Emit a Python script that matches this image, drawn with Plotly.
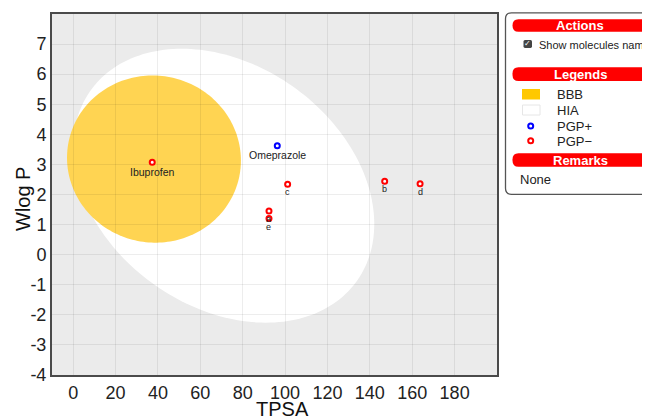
import numpy as np
import plotly.graph_objects as go

# ---------------- data ----------------
names = ["Ibuprofen", "Omeprazole", "c", "b", "d", "a", "e"]
tpsa = [37.30, 96.31, 101.2, 147.0, 163.7, 92.4, 92.4]
wlogp = [3.07, 3.62, 2.34, 2.44, 2.36, 1.45, 1.20]
pgp = ["-", "+", "-", "-", "-", "-", "-"]

# BOILED-Egg ellipses: (center TPSA, center WLOGP, width, height, angle deg)
hia_ellipse = [71.051, 2.292, 142.081, 8.740, -1.031325]
bbb_ellipse = [38.117, 3.177, 82.061, 5.557, -0.066235]

x_range = [-10, 200]
y_range = [-4, 8]
x_ticks = [0, 20, 40, 60, 80, 100, 120, 140, 160, 180]
y_ticks = [-4, -3, -2, -1, 0, 1, 2, 3, 4, 5, 6, 7]

x_title = "TPSA"
y_title = "Wlog P"
legend_labels = ["BBB", "HIA", "PGP+", "PGP\u2212"]

# ---------------- layout helpers ----------------
OFF = 8  # page body margin
W, H = 642, 410
L, T = 52 - OFF, 14 - OFF
PW, PH = 445, 361
R = W - L - PW
B = H - T - PH


def pxx(x):  # page pixel -> paper x
    return (x - OFF - L) / PW


def pxy(y):  # page pixel -> paper y
    return (T + PH - (y - OFF)) / PH


def ellipse_path(cx, cy, w, h, ang, n=200):
    t = np.linspace(0, 2 * np.pi, n, endpoint=False)
    a, b = w / 2, h / 2
    th = np.deg2rad(ang)
    xs = cx + a * np.cos(t) * np.cos(th) - b * np.sin(t) * np.sin(th)
    ys = cy + a * np.cos(t) * np.sin(th) + b * np.sin(t) * np.cos(th)
    p = "M %.4f,%.4f " % (xs[0], ys[0])
    p += " ".join("L %.4f,%.4f" % (x, y) for x, y in zip(xs[1:], ys[1:]))
    return p + " Z"


def rrect(x0, y0, x1, y1, r):
    pts = [
        ("M", [(x0 + r, y0)]), ("L", [(x1 - r, y0)]), ("Q", [(x1, y0), (x1, y0 + r)]),
        ("L", [(x1, y1 - r)]), ("Q", [(x1, y1), (x1 - r, y1)]),
        ("L", [(x0 + r, y1)]), ("Q", [(x0, y1), (x0, y1 - r)]),
        ("L", [(x0, y0 + r)]), ("Q", [(x0, y0), (x0 + r, y0)]),
    ]
    s = ""
    for cmd, ps in pts:
        s += cmd + " " + " ".join("%.5f,%.5f" % (pxx(x), pxy(y)) for x, y in ps) + " "
    return s + "Z"


FONT = "Liberation Sans, Arial, sans-serif"
fig = go.Figure()

colors = ["#0000ff" if g == "+" else "#ff0000" for g in pgp]
fig.add_trace(go.Scatter(
    x=tpsa, y=wlogp, mode="markers",
    marker=dict(size=5, color="white", line=dict(color=colors, width=2)),
    showlegend=False, hoverinfo="text", text=names,
))

shapes = [
    dict(type="path", xref="x", yref="y", path=ellipse_path(*hia_ellipse),
         fillcolor="white", line=dict(width=0), layer="below"),
    dict(type="path", xref="x", yref="y", path=ellipse_path(*bbb_ellipse),
         fillcolor="#ffd452", line=dict(width=0), layer="below"),
]

annotations = []
for n, x, y in zip(names, tpsa, wlogp):
    long = len(n) > 1
    annotations.append(dict(
        x=x, y=y, xref="x", yref="y", text=n, showarrow=False,
        xanchor="center", yanchor="middle",
        yshift=-9.5 if long else -8,
        font=dict(size=10.5 if long else 9, color="#222222", family=FONT),
    ))


def ptext(x, y, text, size, color="#222222", xanchor="left", family=FONT, angle=0):
    annotations.append(dict(x=pxx(x), y=pxy(y), xref="paper", yref="paper",
                            text=text, showarrow=False, xanchor=xanchor, yanchor="middle",
                            textangle=angle,
                            font=dict(size=size, color=color, family=family)))


# axis titles
ptext(282.5, 408.5, x_title, 20, color="#111111", xanchor="center")
ptext(22.5, 198.5, y_title, 20, color="#111111", xanchor="center", angle=-90)

# ---------------- side panel ----------------
shapes.append(dict(type="path", xref="paper", yref="paper",
                   path=rrect(505.5, 12.8, 648, 194.3, 6),
                   fillcolor="white", line=dict(color="#555555", width=1.3)))
for (yt, yb, label) in [(19.3, 31.7, "Actions"), (67.3, 81, "Legends"), (153.3, 166.7, "Remarks")]:
    shapes.append(dict(type="path", xref="paper", yref="paper",
                       path=rrect(512.5, yt, 647.5, yb, 6),
                       fillcolor="#ff0000", line=dict(width=0)))
    ptext(580, (yt + yb) / 2, "<b>%s</b>" % label, 13, color="white", xanchor="center")

# checkbox
shapes.append(dict(type="path", xref="paper", yref="paper",
                   path=rrect(523.5, 40, 532, 48, 1.5),
                   fillcolor="#444444", line=dict(width=0)))
ptext(527.8, 44, "\u2713", 8, color="white", xanchor="center", family="DejaVu Sans")
ptext(537, 45, "Show molecules names", 11)

# legend items
shapes.append(dict(type="rect", xref="paper", yref="paper",
                   x0=pxx(522), x1=pxx(540), y0=pxy(89), y1=pxy(99.5),
                   fillcolor="#ffc800", line=dict(width=0)))
shapes.append(dict(type="rect", xref="paper", yref="paper",
                   x0=pxx(522.5), x1=pxx(540), y0=pxy(105), y1=pxy(115),
                   fillcolor="white", line=dict(color="#e6e6e6", width=1)))
for cy, col in [(126, "#0000ff"), (140.7, "#ff0000")]:
    shapes.append(dict(type="circle", xref="paper", yref="paper",
                       x0=pxx(528.2), x1=pxx(533.2), y0=pxy(cy - 2.5), y1=pxy(cy + 2.5),
                       fillcolor="white", line=dict(color=col, width=2)))
for lab, cy in zip(legend_labels, [94.5, 110, 126, 141]):
    ptext(554.5, cy, lab, 13)
ptext(518, 179.5, "None", 13)

axis_common = dict(
    automargin=False,
    showline=True, mirror=True, linecolor="#4a4a4a", linewidth=2,
    showgrid=True, gridcolor="rgba(0,0,0,0.07)", gridwidth=1,
    zeroline=False, ticks="",
    tickfont=dict(size=18, color="#222222", family=FONT),
)

fig.update_layout(
    width=W, height=H,
    margin=dict(l=L, r=R, t=T, b=B, autoexpand=False),
    paper_bgcolor="white", plot_bgcolor="#ebebeb",
    xaxis=dict(range=x_range, tickvals=x_ticks, ticktext=[str(v) for v in x_ticks],
               **axis_common),
    yaxis=dict(range=y_range, tickvals=y_ticks, ticktext=[str(v) for v in y_ticks],
               **axis_common),
    shapes=shapes, annotations=annotations,
    showlegend=False,
)

fig.write_html("out.html", config={"displayModeBar": False})
